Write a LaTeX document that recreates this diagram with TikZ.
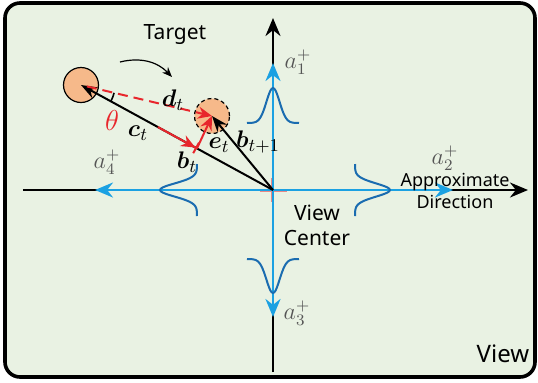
\documentclass[tikz,border=0pt]{standalone}
\usepackage{amsmath,amssymb}
\usepackage{fontspec}
\setsansfont{Noto Sans}
\usepackage{xcolor}
\usepackage{tikz}
\usetikzlibrary{arrows.meta, calc, angles}
\definecolor{vwBg}{HTML}{E9F2E3}
\definecolor{vwBlue}{HTML}{1BA1E2}
\definecolor{vwBell}{HTML}{1A6CB0}
\definecolor{vwRed}{HTML}{E8262C}
\definecolor{vwCross}{HTML}{E87070}
\definecolor{vwOrange}{HTML}{F6B98A}
\definecolor{vwGray}{HTML}{555555}
\tikzset{
  vwaxis/.style={draw=black, line width=1.2pt},
  vwdir/.style={draw=vwBlue, line width=1.3pt, -{Stealth[length=9pt,width=7.5pt]}},
  vwbell/.style={draw=vwBell, line width=1pt, smooth, samples=41},
  vwvec/.style={draw=black, line width=1pt, -{Stealth[length=8pt,width=6pt]}},
  vwred/.style={draw=vwRed, line width=1pt, -{Stealth[length=7pt,width=6pt]}},
  vwobj/.style={circle, fill=vwOrange, draw=black, line width=0.6pt,
                minimum size=17.5pt, inner sep=0pt},
  vwtxt/.style={font=\sffamily\fontsize{10.5}{12.5}\selectfont, align=center, inner sep=1pt},
  vwlab/.style={text=vwGray, inner sep=1pt, font=\fontsize{11.5}{13}\selectfont},
  vwsym/.style={inner sep=1pt, font=\fontsize{12.5}{14}\selectfont},
}

\begin{document}
\begin{tikzpicture}[x=0.5pt, y=-0.5pt]
\useasboundingbox (0,0) rectangle (538,382);
\draw[line width=1.8pt, fill=vwBg, rounded corners=7.5pt] (5,3) rectangle (535,377);

\coordinate (o) at (273,190);
\coordinate (axL) at (23,190);
\coordinate (axR) at (528,190);
\coordinate (axT) at (273,18);
\coordinate (axB) at (273,372);
\coordinate (dirU) at (273,63);
\coordinate (dirD) at (273,317);
\coordinate (dirL) at (95,190);
\coordinate (dirR) at (453,190);

\draw[vwCross, line width=1.5pt, opacity=0.8] ($(o)+(-13,0)$) -- ($(o)+(14,0)$)
  ($(o)+(0,-12)$) -- ($(o)+(0,12)$);

\draw[vwaxis, -{Stealth[length=9pt,width=7.5pt]}] (axL) -- (axR);
\draw[vwaxis, -{Stealth[length=9pt,width=7.5pt]}] (axB) -- (axT);

\draw[vwdir] (o) -- (dirU);
\draw[vwdir] (o) -- (dirD);
\draw[vwdir] (o) -- (dirL);
\draw[vwdir] (o) -- (dirR);

\draw[vwbell, shift={(o)}] plot[domain=-26:26] (\x,{-67-35*exp(-(\x*\x)/86)});
\draw[vwbell, shift={(o)}] plot[domain=-26:26] (\x,{69+34*exp(-(\x*\x)/86)});
\draw[vwbell, shift={(o)}] plot[domain=-26:26] ({-76-37*exp(-(\x*\x)/86)},\x);
\draw[vwbell, shift={(o)}] plot[domain=-26:26] ({82+35*exp(-(\x*\x)/86)},\x);

\node[vwobj] (tgt) at (81,85) {};
\node[vwobj, dash pattern=on 2pt off 1.5pt] (nxt) at (212,116) {};

\coordinate (ctip) at ($(o)!0.396!(tgt)$);
\coordinate (cbeg) at ($(o)!0.60!(tgt)$);
\coordinate (mvA) at (120,62);
\coordinate (mvB) at (172,77);

\draw[vwvec] (o) -- (tgt.center);
\draw[vwvec] (o) -- (nxt.center);
\draw[vwred, -{Stealth[length=7pt,width=6pt]Bar[width=6pt]}] (cbeg) -- (ctip);
\draw[vwred, dash pattern=on 5pt off 3pt, shorten <=3pt] (tgt.center) -- (nxt.center);
\draw[vwred] (ctip) -- (nxt.center);
\pic[draw, line width=0.8pt, angle radius=17pt] {angle = o--tgt--nxt};
\draw[line width=0.6pt, -{Stealth[length=5pt,width=4pt]}] (mvA) to[bend left=30] (mvB);

\node[vwtxt] (lblTarget) at (175,35) {Target};
\node[vwtxt] (lblCenter) at (317,225) {View\\Center};
\node[vwtxt, font=\sffamily\fontsize{9}{11}\selectfont] (lblApprox) at (455,191) {Approximate\\Direction};
\node[vwtxt, font=\sffamily\fontsize{12}{14}\selectfont] (lblView) at (503,354) {View};

\node[vwlab] (lblA1) at (298,62) {$a_1^+$};
\node[vwlab] (lblA2) at (445,158) {$a_2^+$};
\node[vwlab] (lblA3) at (297,313) {$a_3^+$};
\node[vwlab] (lblA4) at (107,162) {$a_4^+$};

\node[vwsym, text=vwRed, font=\fontsize{14}{16}\selectfont] (lblTheta) at (112,120) {$\theta$};
\node[vwsym] (lblC) at (138,133) {$\boldsymbol{c}_t$};
\node[vwsym] (lblD) at (173,100) {$\boldsymbol{d}_t$};
\node[vwsym] (lblE) at (219,145) {$\boldsymbol{e}_t$};
\node[vwsym] (lblB) at (187,162) {$\boldsymbol{b}_t$};
\node[vwsym] (lblB1) at (258,142) {$\boldsymbol{b}_{t+1}$};
\end{tikzpicture}
\end{document}
